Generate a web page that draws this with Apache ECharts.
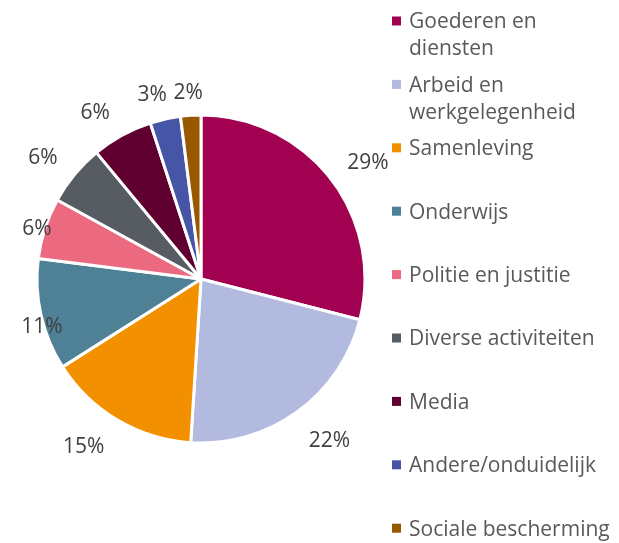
<!DOCTYPE html>
<html>
<head>
<meta charset="utf-8">
<script src="https://cdn.jsdelivr.net/npm/echarts@6/dist/echarts.min.js"></script>
<style>
html,body{margin:0;padding:0;background:#fff;}
#chart{width:619px;height:543px;}
</style>
</head>
<body>
<div id="chart"></div>
<script>
const categories = ['Goederen en diensten','Arbeid en werkgelegenheid','Samenleving','Onderwijs','Politie en justitie','Diverse activiteiten','Media','Andere/onduidelijk','Sociale bescherming'];
const values = [29, 22, 15, 11, 6, 6, 6, 3, 2];
const colors = ['#A20050','#B2BADF','#F39000','#4E8196','#EC6A80','#575C63','#600030','#4655A5','#975800'];

const FONT = '"Open Sans", sans-serif';
const chart = echarts.init(document.getElementById('chart'), null, {renderer:'canvas'});

// label nudges (Excel best-fit placement)
const labelOffsets = [[5,10],[8,-4],[-13,-8],[41,3],[31,13],[0,10],[-7,14],[-4,16],[0,19]];

const mainData = categories.map((c,i)=>({name:c, value:values[i], itemStyle:{color:colors[i]}}));
const labelData = categories.map((c,i)=>({name:c, value:values[i], label:{offset:labelOffsets[i]}}));

const legendGraphics = [];
categories.forEach((c,i)=>{
  const cy = 21 + i*63.4;
  legendGraphics.push({type:'rect', left:392, top:cy-4.5, shape:{width:9,height:9}, style:{fill:colors[i]}, silent:true});
  legendGraphics.push({type:'text', left:409, top:cy-12, style:{text:c, fill:'#595959', font:'21px ' + FONT, lineHeight:27, width:204, overflow:'break'}, silent:true});
});

chart.setOption({
  animation:false,
  series:[
    {
      type:'pie',
      center:[201,279],
      radius:[0,164],
      startAngle:90,
      clockwise:true,
      silent:true,
      label:{show:false},
      labelLine:{show:false},
      itemStyle:{borderColor:'#fff', borderWidth:3},
      data:mainData
    },
    {
      type:'pie',
      center:[201,279],
      radius:[190,214],
      startAngle:90,
      clockwise:true,
      silent:true,
      itemStyle:{color:'rgba(0,0,0,0)', borderWidth:0},
      label:{show:true, position:'inside', formatter:'{c}%', color:'#404040', fontFamily:FONT, fontSize:21, rotate:0},
      labelLine:{show:false},
      emphasis:{disabled:true},
      data:labelData
    }
  ],
  graphic:legendGraphics
});
</script>
</body>
</html>
